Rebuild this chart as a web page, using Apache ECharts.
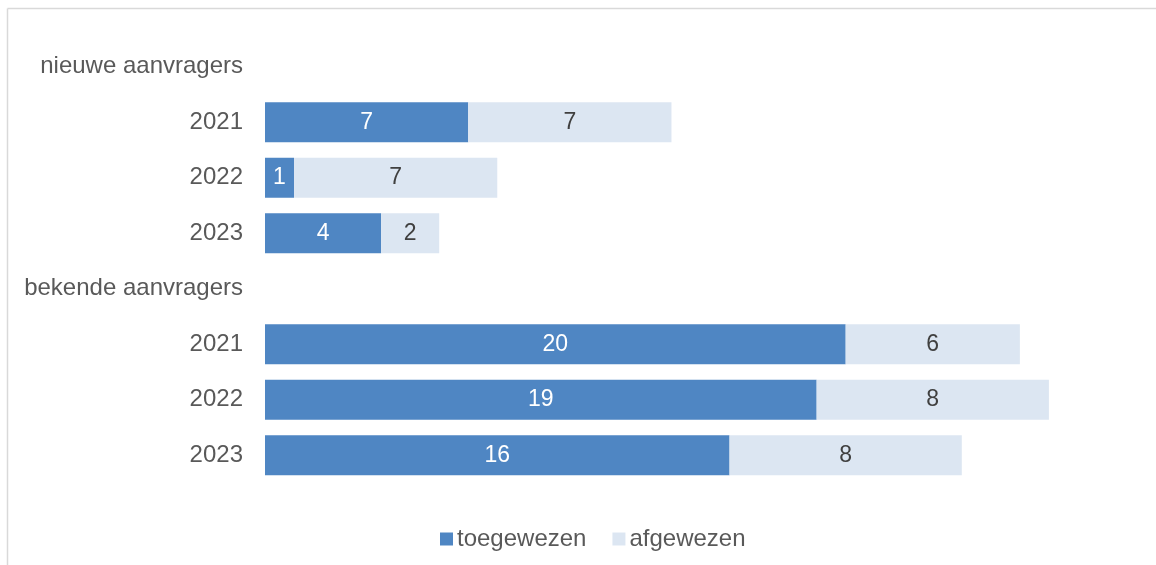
<!DOCTYPE html>
<html>
<head>
<meta charset="utf-8">
<script src="https://cdn.jsdelivr.net/npm/echarts@6/dist/echarts.min.js"></script>
<style>
html,body{margin:0;padding:0;background:#fff;}
#chart{width:1156px;height:565px;}
</style>
</head>
<body>
<div id="chart"></div>
<script>
var categories = ['nieuwe aanvragers', '2021', '2022', '2023', 'bekende aanvragers', '2021', '2022', '2023'];
var toegewezen = [null, 7, 1, 4, null, 20, 19, 16];
var afgewezen = [null, 7, 7, 2, null, 6, 8, 8];
var seriesNames = ['toegewezen', 'afgewezen'];

var FONT = '"Liberation Sans", Arial, sans-serif';
var chart = echarts.init(document.getElementById('chart'), null, {renderer: 'canvas'});
chart.setOption({
  animation: false,
  backgroundColor: '#ffffff',
  textStyle: {fontFamily: FONT},
  graphic: [
    {type: 'line', shape: {x1: 7.5, y1: 8.5, x2: 1156, y2: 8.5}, style: {stroke: '#d9d9d9', lineWidth: 1.5}},
    {type: 'line', shape: {x1: 7.5, y1: 8.5, x2: 7.5, y2: 565}, style: {stroke: '#d9d9d9', lineWidth: 1.5}}
  ],
  grid: {left: 265, right: 20, top: 39, bottom: 82, containLabel: false},
  legend: {
    top: 522,
    left: 435,
    icon: 'rect',
    itemWidth: 13,
    itemHeight: 13,
    itemGap: 26,
    textStyle: {fontFamily: FONT, fontSize: 24, color: '#595959', padding: [0, 0, 0, -1]},
    data: seriesNames
  },
  xAxis: {
    type: 'value', min: 0, max: 30, show: false
  },
  yAxis: {
    type: 'category',
    inverse: true,
    data: categories,
    axisLine: {show: false},
    axisTick: {show: false},
    axisLabel: {fontFamily: FONT, fontSize: 24, color: '#595959', margin: 22}
  },
  series: [
    {
      name: seriesNames[0], type: 'bar', stack: 'a', barWidth: 40,
      data: toegewezen,
      itemStyle: {color: '#4f86c3'},
      label: {show: true, position: 'inside', fontFamily: FONT, fontSize: 23, color: '#ffffff'}
    },
    {
      name: seriesNames[1], type: 'bar', stack: 'a', barWidth: 40,
      data: afgewezen,
      itemStyle: {color: '#dce6f2'},
      label: {show: true, position: 'inside', fontFamily: FONT, fontSize: 23, color: '#404040'}
    }
  ]
});
</script>
</body>
</html>
